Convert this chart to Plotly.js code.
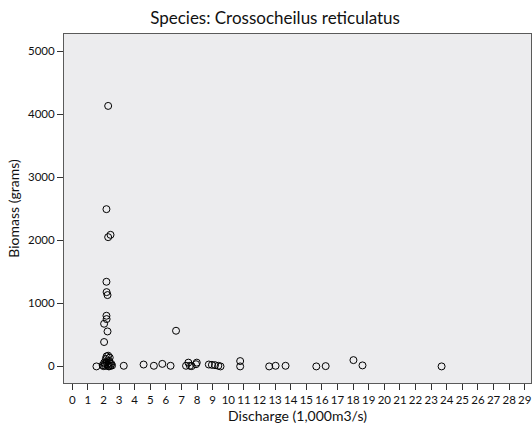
<!DOCTYPE html>
<html>
<head>
<meta charset="utf-8">
<script src="https://cdn.plot.ly/plotly-3.0.1.min.js"></script>
<style>html,body{margin:0;padding:0;background:#fff;}#chart{width:532px;height:432px;}</style>
</head>
<body>
<div id="chart"></div>
<script>
const discharge = [
  2.30, 2.19, 2.30, 2.45, 2.19, 2.20, 2.26, 2.19, 2.20, 2.04, 2.26, 2.04, 6.65,
  1.55, 1.95, 2.00, 2.05, 2.10, 2.15, 2.20, 2.25, 2.30, 2.35, 2.40, 2.45, 2.50, 2.20, 2.30, 2.10, 2.40, 2.55, 2.35, 3.30,
  4.57, 5.23, 5.77, 6.30, 7.29, 7.44, 7.54, 7.65, 7.93, 7.98, 8.75, 8.95, 9.15, 9.36, 9.50,
  10.76, 10.76, 12.62, 13.03, 13.67, 15.64, 16.24, 18.02, 18.60, 23.67
];
const biomass = [
  4133, 2495, 2051, 2088, 1343, 1179, 1132, 804, 751, 677, 555, 387, 566,
  0, 20, 5, 60, 10, 120, 160, 30, 170, 90, 140, 10, 40, 70, 5, 40, 60, 15, 0, 10,
  30, 10, 40, 10, 10, 60, 10, 5, 35, 60, 30, 25, 20, 10, 0,
  85, 0, 0, 10, 10, 0, 5, 100, 16, 0
];
const xTicks = Array.from({length: 30}, (_, i) => i);
const yTicks = [0, 1000, 2000, 3000, 4000, 5000];

const font = "Lato, 'Open Sans', sans-serif";
const axisCommon = {
  showgrid: false, zeroline: false, showline: true, mirror: true,
  linecolor: '#5a5a5a', linewidth: 1, ticks: 'outside', ticklen: 6,
  tickcolor: '#333', tickwidth: 1, tickfont: {family: font, size: 11.5, color: '#111'},
  tickangle: 0, fixedrange: true
};
Plotly.newPlot('chart', [{
  x: discharge, y: biomass, type: 'scatter', mode: 'markers',
  marker: {symbol: 'circle-open', size: 7, color: '#000', line: {width: 1, color: '#000'}},
  hoverinfo: 'skip'
}], {
  width: 532, height: 432,
  margin: {l: 64, r: 1, t: 34, b: 49},
  paper_bgcolor: '#ffffff', plot_bgcolor: '#ececee',
  showlegend: false,
  title: {text: 'Species: Crossocheilus reticulatus', font: {family: font, size: 17, color: '#111'},
          x: 0.517, xanchor: 'center', y: 0.958, yanchor: 'middle', yref: 'container'},
  xaxis: Object.assign({}, axisCommon, {
    range: [-0.53, 29.4], tickvals: xTicks, ticktext: xTicks.map(String),
    title: {text: 'Discharge (1,000m3/s)', font: {family: font, size: 14, color: '#111'}, standoff: 6}
  }),
  yaxis: Object.assign({}, axisCommon, {
    range: [-263, 5274], tickvals: yTicks, ticktext: yTicks.map(String),
    title: {text: 'Biomass (grams)', font: {family: font, size: 14, color: '#111'}, standoff: 5}
  })
}, {staticPlot: true});
</script>
</body>
</html>
